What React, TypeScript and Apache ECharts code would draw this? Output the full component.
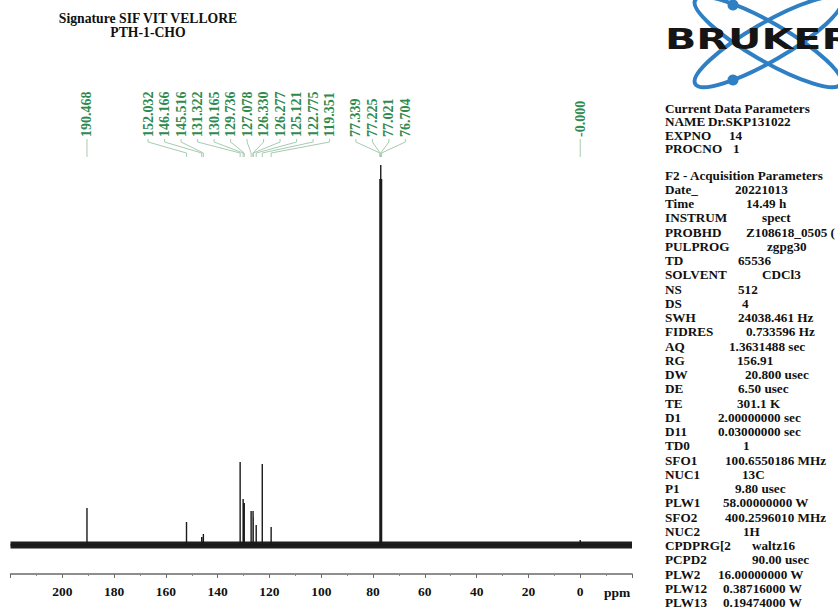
import React, { useEffect, useRef } from "react";
import * as echarts from "echarts";

const titleLines = ["Signature SIF VIT VELLORE", "PTH-1-CHO"];

const peakPpm = [190.468, 152.032, 146.166, 145.516, 131.322, 130.165, 129.736, 127.078, 126.33, 126.277, 125.121, 122.775, 119.351, 77.339, 77.225, 77.021, 76.704, 0.0];
const peakLabels = ["190.468", "152.032", "146.166", "145.516", "131.322", "130.165", "129.736", "127.078", "126.330", "126.277", "125.121", "122.775", "119.351", "77.339", "77.225", "77.021", "76.704", "-0.000"];
const peakIntensity = [37, 23, 8, 11, 83, 46, 42, 34, 34, 28, 20, 81, 18, 366, 150, 380, 366, 5];

const xTickLabels = [200, 180, 160, 140, 120, 100, 80, 60, 40, 20, 0];
const xAxisUnit = "ppm";

const currentHeader = "Current Data Parameters";
const currentParamNames = ["NAME", "EXPNO", "PROCNO"];
const currentParamValues = ["Dr.SKP131022", "14", "1"];
const acqHeader = "F2 - Acquisition Parameters";
const acqParamNames = ["Date_", "Time", "INSTRUM", "PROBHD", "PULPROG", "TD", "SOLVENT", "NS", "DS", "SWH", "FIDRES", "AQ", "RG", "DW", "DE", "TE", "D1", "D11", "TD0", "SFO1", "NUC1", "P1", "PLW1", "SFO2", "NUC2", "CPDPRG[2", "PCPD2", "PLW2", "PLW12", "PLW13"];
const acqParamValues = ["20221013", "14.49 h", "spect", "Z108618_0505 (", "zgpg30", "65536", "CDCl3", "512", "4", "24038.461 Hz", "0.733596 Hz", "1.3631488 sec", "156.91", "20.800 usec", "6.50 usec", "301.1 K", "2.00000000 sec", "0.03000000 sec", "1", "100.6550186 MHz", "13C", "9.80 usec", "58.00000000 W", "400.2596010 MHz", "1H", "waltz16", "90.00 usec", "16.00000000 W", "0.38716000 W", "0.19474000 W"];

// layout (left x of each value text)
const currentValueX = [708, 729, 733];
const acqValueX = [735, 746, 762, 746, 767, 738, 762, 738, 742, 738, 746, 729, 737, 745, 738, 737, 718, 718, 743, 725, 742, 735, 723, 725, 743, 752, 752, 718, 723, 723];

const AXIS_MIN = -20;
const AXIS_MAX = 220;
const SERIF = '"Liberation Serif", "Times New Roman", serif';

function layoutLabels(xs: number[], gap: number): number[] {
  type Block = { sum: number; n: number; idx: number[] };
  const blocks: Block[] = [];
  const start = (b: Block) => b.sum / b.n - ((b.n - 1) * gap) / 2;
  xs.forEach((x, i) => {
    blocks.push({ sum: x, n: 1, idx: [i] });
    while (blocks.length > 1) {
      const b = blocks[blocks.length - 1];
      const a = blocks[blocks.length - 2];
      if (start(a) + a.n * gap > start(b)) {
        blocks.splice(blocks.length - 2, 2, { sum: a.sum + b.sum, n: a.n + b.n, idx: a.idx.concat(b.idx) });
      } else break;
    }
  });
  const out: number[] = new Array(xs.length);
  blocks.forEach((b) => {
    const s = start(b);
    b.idx.forEach((i, k) => (out[i] = s + k * gap));
  });
  return out;
}

export default function App() {
  const ref = useRef<HTMLDivElement>(null);
  useEffect(() => {
    const chart = echarts.init(ref.current!, null, { renderer: "svg" });
    const stickData: [number, number][] = [[AXIS_MAX, 0]];
    peakPpm.forEach((p, i) => {
      stickData.push([p, 0], [p, peakIntensity[i]], [p, 0]);
    });
    stickData.push([AXIS_MIN, 0]);

    chart.setOption({
      animation: false,
      backgroundColor: "#ffffff",
      grid: { left: 10.5, right: 206, top: 165, bottom: 38 },
      xAxis: {
        type: "value",
        inverse: true,
        min: AXIS_MIN,
        max: AXIS_MAX,
        interval: 20,
        axisLine: { onZero: false, lineStyle: { color: "#6a6a6a", width: 1.5 } },
        axisTick: { show: true, length: 4, lineStyle: { color: "#6a6a6a", width: 1 } },
        minorTick: { show: true, splitNumber: 2, length: 2, lineStyle: { color: "#8a8a8a" } },
        splitLine: { show: false },
        minorSplitLine: { show: false },
        axisLabel: {
          margin: 10,
          color: "#111",
          fontFamily: SERIF,
          fontWeight: "bold",
          fontSize: 13.5,
          formatter: (v: number) => (xTickLabels.indexOf(v) >= 0 ? String(v) : ""),
        },
      },
      yAxis: { type: "value", min: -29, max: 380, show: false },
      series: [
        {
          type: "line",
          data: [[AXIS_MAX, 0], [AXIS_MIN, 0]],
          showSymbol: false,
          silent: true,
          lineStyle: { color: "#1e1e1e", width: 7 },
          z: 2,
        },
        {
          type: "line",
          data: stickData,
          showSymbol: false,
          silent: true,
          lineStyle: { color: "#1a1a1a", width: 1.4 },
          z: 3,
        },
      ],
    });

    const toPx = (v: number) => chart.convertToPixel({ xAxisIndex: 0 }, v) as number;
    const peakX = peakPpm.map(toPx);
    const labelX = layoutLabels(peakX, 16.5);

    const els: any[] = [];
    const txt = (x: number, y: number, text: string, font: string, fill: string, align = "left", extra: any = {}) => ({
      type: "text",
      x,
      y,
      ...extra,
      style: { text, font, fill, align, textAlign: align, verticalAlign: "middle", textVerticalAlign: "middle" },
    });

    // title
    titleLines.forEach((t, i) => els.push(txt(148, 18 + i * 14, t, `bold 13.7px ${SERIF}`, "#111", "center")));

    // peak labels and leader lines
    peakLabels.forEach((t, i) => {
      const lx = labelX[i];
      const px = peakX[i];
      els.push({
        type: "polyline",
        shape: { points: [[lx, 139], [lx, 142], [px, 153], [px, 157]] },
        style: { stroke: "#a6cbb2", lineWidth: 1, fill: "none" },
      });
      els.push(txt(lx, 137, t, `bold 14px ${SERIF}`, "#2f8a4e", "left", { rotation: Math.PI / 2 }));
    });

    // axis unit
    els.push(txt(617, 592, xAxisUnit, `bold 13.5px ${SERIF}`, "#111", "center"));

    // logo
    [Math.PI / 6, -Math.PI / 6].forEach((r) =>
      els.push({
        type: "ellipse",
        x: 768,
        y: 42,
        rotation: r,
        shape: { cx: 0, cy: 0, rx: 84, ry: 19 },
        style: { fill: "none", stroke: "#2e7fc3", lineWidth: 4 },
      })
    );
    els.push({ type: "circle", shape: { cx: 733, cy: 5, r: 5.5 }, style: { fill: "#2e7fc3" } });
    els.push({ type: "circle", shape: { cx: 733, cy: 80, r: 5.5 }, style: { fill: "#2e7fc3" } });
    els.push(txt(665, 39, "BRUKER", 'bold 28px "DejaVu Sans", sans-serif', "#151515", "left", { scaleX: 1.47 }));

    // parameters
    const pfont = `bold 13.2px ${SERIF}`;
    els.push(txt(665, 108, currentHeader, pfont, "#111"));
    currentParamNames.forEach((n, i) => {
      const y = 108 + 13.5 * (i + 1);
      els.push(txt(665, y, n, pfont, "#111"));
      els.push(txt(currentValueX[i], y, currentParamValues[i], pfont, "#111"));
    });
    els.push(txt(665, 175, acqHeader, pfont, "#111"));
    acqParamNames.forEach((n, i) => {
      const y = 175 + 14.25 * (i + 1);
      els.push(txt(665, y, n, pfont, "#111"));
      els.push(txt(acqValueX[i], y, acqParamValues[i], pfont, "#111"));
    });

    chart.setOption({ graphic: els });
    return () => chart.dispose();
  }, []);
  return (
    <div
      ref={ref}
      style={{ position: "absolute", left: 0, top: 0, width: 838, height: 612, background: "#fff" }}
    />
  );
}
